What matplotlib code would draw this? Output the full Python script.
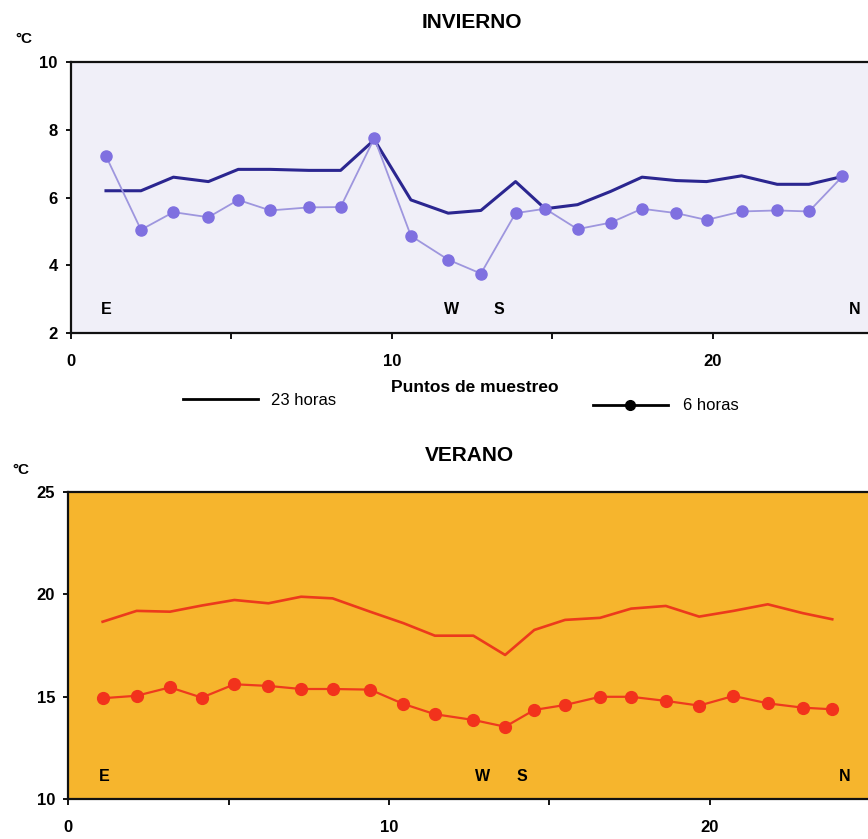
import matplotlib
matplotlib.use("Agg")
import matplotlib.pyplot as plt
from matplotlib.lines import Line2D

plt.rcParams['font.family'] = ['Liberation Sans', 'DejaVu Sans']

# Invierno
x_inv = [1.09, 2.18, 3.19, 4.28, 5.21, 6.21, 7.41, 8.40, 9.45, 10.59, 11.75, 12.77,
         13.85, 14.77, 15.78, 16.81, 17.79, 18.86, 19.80, 20.89, 22.00, 22.99, 24.03]
inv_23h = [6.20, 6.20, 6.60, 6.47, 6.83, 6.83, 6.80, 6.80, 7.70, 5.93, 5.54, 5.62,
           6.47, 5.67, 5.79, 6.18, 6.60, 6.50, 6.47, 6.64, 6.39, 6.39, 6.62]
inv_6h = [7.22, 5.05, 5.57, 5.42, 5.93, 5.62, 5.71, 5.72, 7.75, 4.87, 4.17, 3.76,
          5.54, 5.67, 5.07, 5.26, 5.67, 5.54, 5.34, 5.59, 5.62, 5.59, 6.62]
inv_marcas = [('E', 1.1, 2.7), ('W', 11.86, 2.7), ('S', 13.33, 2.7), ('N', 24.42, 2.7)]

# Verano
x_ver = [1.07, 2.13, 3.17, 4.16, 5.18, 6.24, 7.26, 8.24, 9.41, 10.45, 11.43, 12.63,
         13.62, 14.53, 15.49, 16.58, 17.55, 18.63, 19.67, 20.74, 21.81, 22.90, 23.82]
ver_23h = [18.66, 19.19, 19.15, 19.45, 19.72, 19.56, 19.88, 19.80, 19.15, 18.59, 17.98, 17.98,
           17.04, 18.26, 18.75, 18.85, 19.30, 19.43, 18.91, 19.19, 19.51, 19.08, 18.78]
ver_6h = [14.93, 15.05, 15.46, 14.96, 15.61, 15.53, 15.38, 15.38, 15.35, 14.65, 14.15, 13.87,
          13.54, 14.36, 14.60, 15.00, 15.00, 14.80, 14.57, 15.04, 14.68, 14.47, 14.39]
ver_marcas = [('E', 1.11, 11.1), ('W', 12.93, 11.1), ('S', 14.15, 11.1), ('N', 24.22, 11.1)]


def estilo_ejes(ax, ylim, yticks):
    ax.set_xlim(0, 25)
    ax.set_ylim(*ylim)
    ax.set_xticks([0, 10, 20])
    ax.set_xticks([5, 15], minor=True)
    ax.set_yticks(yticks)
    ax.spines['right'].set_visible(False)
    for s in ['top', 'left', 'bottom']:
        ax.spines[s].set_linewidth(1.6)
        ax.spines[s].set_color('#111111')
    ax.tick_params(axis='x', which='both', direction='out', length=4.5, width=1.3, pad=10.5)
    ax.tick_params(axis='y', direction='out', length=3.5, width=1.3, pad=6)
    for lab in ax.get_xticklabels() + ax.get_yticklabels():
        lab.set_fontweight('bold')
        lab.set_fontsize(12)


fig = plt.figure(figsize=(8.68, 8.39), dpi=100)

# --- INVIERNO ---
ax1 = fig.add_axes([0.0818, 0.6027, 0.9245, 0.3237])
ax1.set_facecolor('#f0eff8')
ax1.plot(x_inv, inv_23h, color='#2b2690', lw=2.2)
ax1.plot(x_inv, inv_6h, color='#9e96de', lw=1.3, marker='o', ms=8,
         mfc='#7f70e0', mec='#7f70e0')
estilo_ejes(ax1, (2, 10), [2, 4, 6, 8, 10])
ax1.set_title('INVIERNO', fontsize=15, fontweight='bold', pad=24)
ax1.set_xlabel('Puntos de muestreo', fontsize=12.5, fontweight='bold')
ax1.xaxis.set_label_coords(0.503, -0.172)
ax1.text(-0.059, 1.085, '°C', transform=ax1.transAxes, fontsize=11,
         fontweight='bold', ha='center', va='center')
for t, x, y in inv_marcas:
    ax1.text(x, y, t, fontsize=11.5, fontweight='bold', ha='center', va='center')

h23 = Line2D([], [], color='black', lw=2)
h6 = Line2D([], [], color='black', lw=2, marker='o', ms=7)
leg1 = ax1.legend(handles=[h23], labels=['23 horas'], loc='center left',
                  bbox_to_anchor=(0.1396, -0.2456), frameon=False, fontsize=12,
                  handlelength=4.5, handletextpad=0.8, borderpad=0, borderaxespad=0)
ax1.add_artist(leg1)
ax1.legend(handles=[h6], labels=['6 horas'], loc='center left', numpoints=1,
           bbox_to_anchor=(0.650, -0.267), frameon=False, fontsize=12,
           handlelength=4.5, handletextpad=0.9, borderpad=0, borderaxespad=0)

# --- VERANO ---
ax2 = fig.add_axes([0.0787, 0.0473, 0.9237, 0.3666])
ax2.set_facecolor('#f6b52d')
ax2.plot(x_ver, ver_23h, color='#ec3a1c', lw=1.9)
ax2.plot(x_ver, ver_6h, color='#ee3a1e', lw=1.6, marker='o', ms=8.5,
         mfc='#f2321c', mec='#f2321c')
estilo_ejes(ax2, (10, 25), [10, 15, 20, 25])
ax2.set_title('VERANO', fontsize=15, fontweight='bold', pad=22)
ax2.text(-0.059, 1.0705, '°C', transform=ax2.transAxes, fontsize=11,
         fontweight='bold', ha='center', va='center')
for t, x, y in ver_marcas:
    ax2.text(x, y, t, fontsize=11.5, fontweight='bold', ha='center', va='center')

plt.savefig('out.png', dpi=100)
plt.close()
